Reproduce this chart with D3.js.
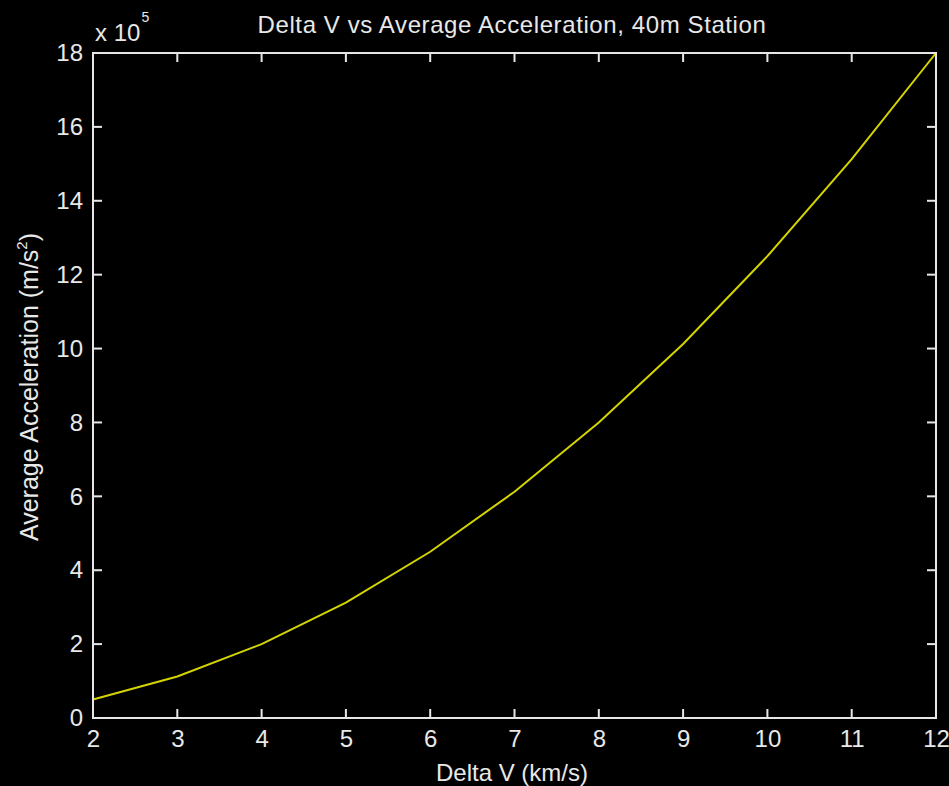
<!DOCTYPE html>
<html>
<head>
<meta charset="utf-8">
<script src="https://cdn.jsdelivr.net/npm/d3@7"></script>
<style>
  html, body { margin: 0; padding: 0; background: #000; }
  svg { display: block; }
  text { font-family: "Liberation Sans", Arial, sans-serif; fill: #e8e8e8; }
</style>
</head>
<body>
<div id="chart"></div>
<script>
// Delta V (km/s)
const deltaV = [2, 3, 4, 5, 6, 7, 8, 9, 10, 11, 12];
// Average acceleration (x 10^5 m/s^2)
const avgAccel = [0.5, 1.125, 2.0, 3.125, 4.5, 6.125, 8.0, 10.125, 12.5, 15.125, 18.0];
const xTicks = [2, 3, 4, 5, 6, 7, 8, 9, 10, 11, 12];
const yTicks = [0, 2, 4, 6, 8, 10, 12, 14, 16, 18];

const width = 949, height = 786;
const margin = { top: 53, right: 13, bottom: 68, left: 93 };
const axisColor = "#e6e6e6";
const fontSize = 24;
const tickLen = 9;

const svg = d3.select("#chart")
  .append("svg")
  .attr("width", width)
  .attr("height", height);

svg.append("rect")
  .attr("width", width)
  .attr("height", height)
  .attr("fill", "#000");

const x = d3.scaleLinear()
  .domain([2, 12])
  .range([margin.left, width - margin.right]);

const y = d3.scaleLinear()
  .domain([0, 18])
  .range([height - margin.bottom, margin.top]);

const x0 = x.range()[0], x1 = x.range()[1];
const y0 = y.range()[0], y1 = y.range()[1];

// Data line
const line = d3.line()
  .x((d, i) => x(deltaV[i]))
  .y(d => y(d));

svg.append("path")
  .datum(avgAccel)
  .attr("fill", "none")
  .attr("stroke", "#d4d400")
  .attr("stroke-width", 2)
  .attr("d", line);

// Box round the plot
svg.append("rect")
  .attr("x", x0)
  .attr("y", y1)
  .attr("width", x1 - x0)
  .attr("height", y0 - y1)
  .attr("fill", "none")
  .attr("stroke", axisColor)
  .attr("stroke-width", 2);

// Inward ticks on all four sides
const tk = svg.append("g").attr("fill", axisColor);
tk.selectAll(".xb").data(xTicks).join("rect").attr("class", "xb")
  .attr("x", d => x(d) - 1).attr("y", y0 - tickLen).attr("width", 2).attr("height", tickLen);
tk.selectAll(".xt").data(xTicks).join("rect").attr("class", "xt")
  .attr("x", d => x(d) - 1).attr("y", y1).attr("width", 2).attr("height", tickLen);
tk.selectAll(".yl").data(yTicks).join("rect").attr("class", "yl")
  .attr("x", x0).attr("y", d => y(d) - 1).attr("width", tickLen).attr("height", 2);
tk.selectAll(".yr").data(yTicks).join("rect").attr("class", "yr")
  .attr("x", x1 - tickLen).attr("y", d => y(d) - 1).attr("width", tickLen).attr("height", 2);

// Tick labels via d3 axes
function styleAxis(g) {
  g.select(".domain").remove();
  g.selectAll(".tick line").remove();
  g.selectAll(".tick text")
    .attr("fill", axisColor)
    .style("font-size", fontSize + "px")
    .style("font-family", "Liberation Sans, Arial, sans-serif");
}

svg.append("g")
  .attr("transform", `translate(0,${y0})`)
  .call(d3.axisBottom(x).tickValues(xTicks).tickSize(0).tickPadding(12))
  .call(styleAxis);

svg.append("g")
  .attr("transform", `translate(${x0},0)`)
  .call(d3.axisLeft(y).tickValues(yTicks).tickSize(0).tickPadding(10))
  .call(styleAxis);

// Exponent label
const expo = svg.append("text")
  .attr("x", 95)
  .attr("y", 41)
  .style("font-size", fontSize + "px");
expo.append("tspan").text("x 10");
expo.append("tspan")
  .attr("dx", 1)
  .attr("dy", -19)
  .style("font-size", "14px")
  .text("5");

// Title
svg.append("text")
  .attr("x", 512)
  .attr("y", 33)
  .attr("text-anchor", "middle")
  .style("font-size", fontSize + "px")
  .style("letter-spacing", "0.6px")
  .text("Delta V vs Average Acceleration, 40m Station");

// X label
svg.append("text")
  .attr("x", 512)
  .attr("y", 781)
  .attr("text-anchor", "middle")
  .style("font-size", fontSize + "px")
  .text("Delta V (km/s)");

// Y label
const yl = svg.append("text")
  .attr("transform", `translate(38,387) rotate(-90)`)
  .attr("text-anchor", "middle")
  .style("font-size", "25px");
yl.append("tspan").text("Average Acceleration (m/s");
yl.append("tspan").attr("dy", -11).style("font-size", "15px").text("2");
yl.append("tspan").attr("dy", 11).text(")");
</script>
</body>
</html>
